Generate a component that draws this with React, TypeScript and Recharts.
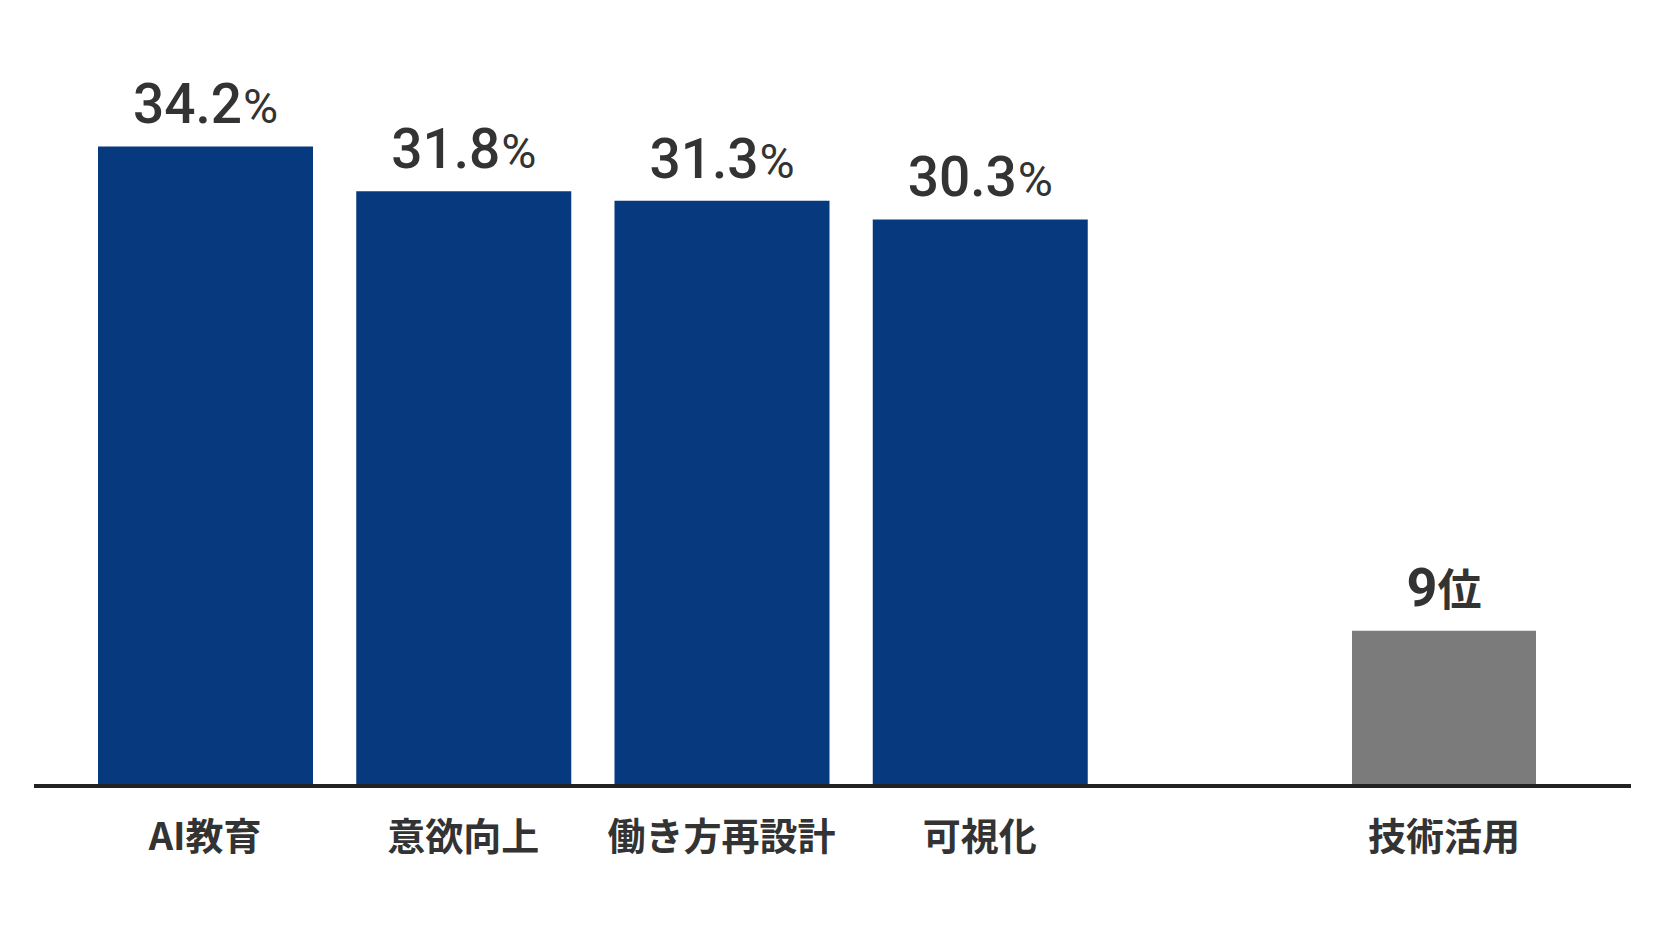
import React from "react";
import { BarChart, Bar, XAxis, YAxis, LabelList } from "recharts";

// top four items, share of answers (%)
const categories = ["AI教育", "意欲向上", "働き方再設計", "可視化"];
const rates = [34.2, 31.8, 31.3, 30.3];

// the item shown apart, only its rank is printed
const otherCategories = ["技術活用"];
const otherRanks = ["9位"];
const otherHeights = [8.3];

const topData = categories.map((name, i) => ({ name, value: rates[i] }));
const otherData = otherCategories.map((name, i) => ({
  name,
  value: otherHeights[i],
  rank: otherRanks[i],
}));

const BLUE = "#07397e";
const GREY = "#7b7b7b";
const INK = "#333333";
const numFont = "Roboto, 'Noto Sans CJK JP', sans-serif";
const jpFont = "'Noto Sans CJK JP', sans-serif";

const HEIGHT = 936;
const Y_MAX = 40;
const LEFT_W = 1109;
const RIGHT_W = 522;

const CategoryTick = (props: any) => {
  const { x, y, payload } = props;
  return (
    <text
      x={x}
      y={y}
      dy={64}
      textAnchor="middle"
      fill={INK}
      fontSize={38}
      fontWeight={700}
      fontFamily={jpFont}
    >
      {payload.value}
    </text>
  );
};

const RateLabel = (props: any) => {
  const { x, y, width, value } = props;
  return (
    <text
      x={x + width / 2}
      y={y - 23}
      textAnchor="middle"
      fill={INK}
      fontFamily={numFont}
      fontWeight={500}
    >
      <tspan fontSize={55}>{value}</tspan>
      <tspan fontSize={48} fontWeight={400} dx={1}>%</tspan>
    </text>
  );
};

const RankLabel = (props: any) => {
  const { x, y, width, index } = props;
  const m = otherRanks[index].match(/^(\d+)(.*)$/);
  const num = m ? m[1] : otherRanks[index];
  const unit = m ? m[2] : "";
  return (
    <text
      x={x + width / 2}
      y={y - 25}
      textAnchor="middle"
      fill={INK}
      fontFamily={numFont}
      fontWeight={700}
    >
      <tspan fontSize={54}>{num}</tspan>
      <tspan fontSize={44} fontFamily={jpFont}>{unit}</tspan>
    </text>
  );
};

const axisLine = { stroke: "#222222", strokeWidth: 4 };

export default function App() {
  return (
    <div
      style={{
        position: "absolute",
        left: 0,
        top: 0,
        width: 1664,
        height: HEIGHT,
        background: "#ffffff",
        overflow: "hidden",
      }}
    >
      <div style={{ position: "absolute", left: 0, top: 0 }}>
        <BarChart
          width={LEFT_W}
          height={HEIGHT}
          data={topData}
          margin={{ top: 38, right: 0, bottom: 40, left: 34 }}
        >
          <XAxis
            dataKey="name"
            axisLine={axisLine}
            tickLine={false}
            tickSize={0}
            tickMargin={0}
            height={110}
            padding={{ left: 42, right: 0 }}
            tick={<CategoryTick />}
            interval={0}
          />
          <YAxis hide domain={[0, Y_MAX]} />
          <Bar dataKey="value" fill={BLUE} barSize={215} isAnimationActive={false}>
            <LabelList dataKey="value" content={<RateLabel />} />
          </Bar>
        </BarChart>
      </div>
      <div style={{ position: "absolute", left: LEFT_W, top: 0 }}>
        <BarChart
          width={RIGHT_W}
          height={HEIGHT}
          data={otherData}
          margin={{ top: 38, right: 0, bottom: 40, left: 0 }}
        >
          <XAxis
            dataKey="name"
            axisLine={axisLine}
            tickLine={false}
            tickSize={0}
            tickMargin={0}
            height={110}
            padding={{ left: 148, right: 0 }}
            tick={<CategoryTick />}
            interval={0}
          />
          <YAxis hide domain={[0, Y_MAX]} />
          <Bar dataKey="value" fill={GREY} barSize={184} isAnimationActive={false}>
            <LabelList dataKey="value" content={<RankLabel />} />
          </Bar>
        </BarChart>
      </div>
    </div>
  );
}
